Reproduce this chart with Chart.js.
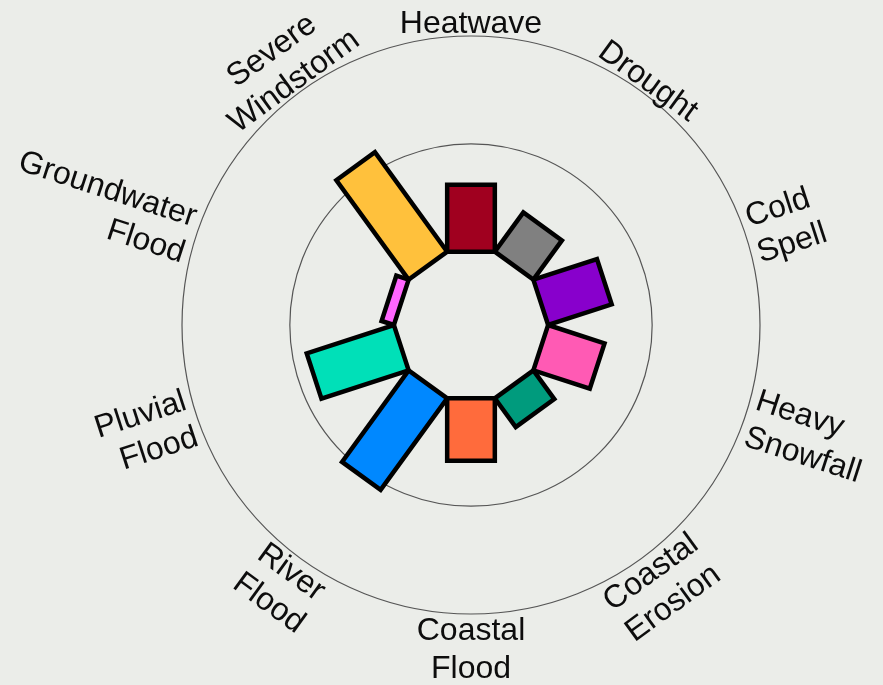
<!DOCTYPE html>
<html lang="en">
<head>
  <meta charset="utf-8">
  <title>Climate hazards</title>
  <script src="https://cdn.jsdelivr.net/npm/chart.js@4.4.1/dist/chart.umd.min.js"></script>
  <style>
    html, body { margin: 0; padding: 0; background: #ebede9; }
    #wrap { width: 883px; height: 685px; position: relative; }
  </style>
</head>
<body>
  <div id="wrap"><canvas id="hazardChart"></canvas></div>
  <script>
    // hazard names (one entry per line of the label), clockwise from the top
    const hazards = [
      ['Heatwave'], ['Drought'], ['Cold', 'Spell'], ['Heavy', 'Snowfall'],
      ['Coastal', 'Erosion'], ['Coastal', 'Flood'], ['River', 'Flood'],
      ['Pluvial', 'Flood'], ['Groundwater', 'Flood'], ['Severe', 'Windstorm']
    ];
    const scores = [31, 22.5, 31, 27.5, 16.5, 29, 52.5, 42.5, 6, 57];
    const barColours = ['#a0001f', '#808080', '#8800cc', '#ff5ab4', '#009b7d',
                        '#ff6b3c', '#0088ff', '#00e0b8', '#ff66ff', '#ffc13c'];
    const gridValues = [50, 100];
    const scaleMin = -34;
    const scaleMax = 100;

    const FONT_SIZE = 32;
    const LINE_H = 38;

    // draws the rectangular bars and the rotated hazard labels
    const radialBars = {
      id: 'radialBars',
      afterDatasetsDraw(chart) {
        const r = chart.scales.r;
        const ctx = chart.ctx;
        const n = scores.length;
        const cx = r.xCenter, cy = r.yCenter;
        const r0 = r.getDistanceFromCenterForValue(0);
        const hw = r0 * Math.tan(Math.PI / n);

        ctx.save();
        ctx.lineWidth = 4.5;
        ctx.lineJoin = 'miter';
        ctx.strokeStyle = '#000';
        scores.forEach((v, i) => {
          const a = r.getIndexAngle(i);
          const r1 = r.getDistanceFromCenterForValue(v);
          const ux = Math.sin(a), uy = -Math.cos(a);
          const tx = Math.cos(a), ty = Math.sin(a);
          ctx.beginPath();
          ctx.moveTo(cx + ux * r0 - tx * hw, cy + uy * r0 - ty * hw);
          ctx.lineTo(cx + ux * r1 - tx * hw, cy + uy * r1 - ty * hw);
          ctx.lineTo(cx + ux * r1 + tx * hw, cy + uy * r1 + ty * hw);
          ctx.lineTo(cx + ux * r0 + tx * hw, cy + uy * r0 + ty * hw);
          ctx.closePath();
          ctx.fillStyle = barColours[i];
          ctx.fill();
          ctx.stroke();
        });

        // labels
        const rl = r.getDistanceFromCenterForValue(scaleMax) + 3;
        const capH = FONT_SIZE * 0.716;
        ctx.font = FONT_SIZE + 'px "Liberation Sans", Arial, sans-serif';
        ctx.fillStyle = '#0d0d0d';
        ctx.textBaseline = 'alphabetic';
        hazards.forEach((lines, i) => {
          const a = r.getIndexAngle(i);
          const deg = ((a * 180 / Math.PI) % 360 + 360) % 360;
          const rot = (((deg + 45) % 90) + 90) % 90 - 45;
          const m = deg % 180;
          const radial = m > 45 && m < 135;
          const ux = Math.sin(a), uy = -Math.cos(a);
          const hVis = (lines.length - 1) * LINE_H + capH;
          let dist, align;
          if (radial) {
            dist = rl + 3;
            align = deg < 180 ? 'left' : 'right';
          } else {
            dist = rl + hVis / 2;
            align = 'center';
          }
          ctx.save();
          ctx.translate(cx + ux * dist, cy + uy * dist);
          ctx.rotate(rot * Math.PI / 180);
          ctx.textAlign = align;
          lines.forEach((txt, j) => {
            const yOff = (j - (lines.length - 1) / 2) * LINE_H + capH / 2;
            ctx.fillText(txt, 0, yOff);
          });
          ctx.restore();
        });
        ctx.restore();
      }
    };

    new Chart(document.getElementById('hazardChart'), {
      type: 'radar',
      data: {
        labels: hazards.map(l => l.join(' ')),
        datasets: [{
          data: scores,
          showLine: false,
          borderWidth: 0,
          pointRadius: 0,
          pointHoverRadius: 0,
          backgroundColor: 'rgba(0,0,0,0)',
          fill: false
        }]
      },
      options: {
        responsive: true,
        maintainAspectRatio: false,
        animation: false,
        events: [],
        layout: { padding: { left: 100, right: 41, top: 36, bottom: 71 } },
        plugins: { legend: { display: false }, tooltip: { enabled: false } },
        scales: {
          r: {
            min: scaleMin,
            max: scaleMax,
            afterBuildTicks: (scale) => { scale.ticks = gridValues.map(v => ({ value: v })); },
            ticks: { display: false },
            pointLabels: { display: false },
            angleLines: { display: false },
            grid: { circular: true, color: '#555', lineWidth: 1.2 }
          }
        }
      },
      plugins: [radialBars]
    });
  </script>
</body>
</html>
